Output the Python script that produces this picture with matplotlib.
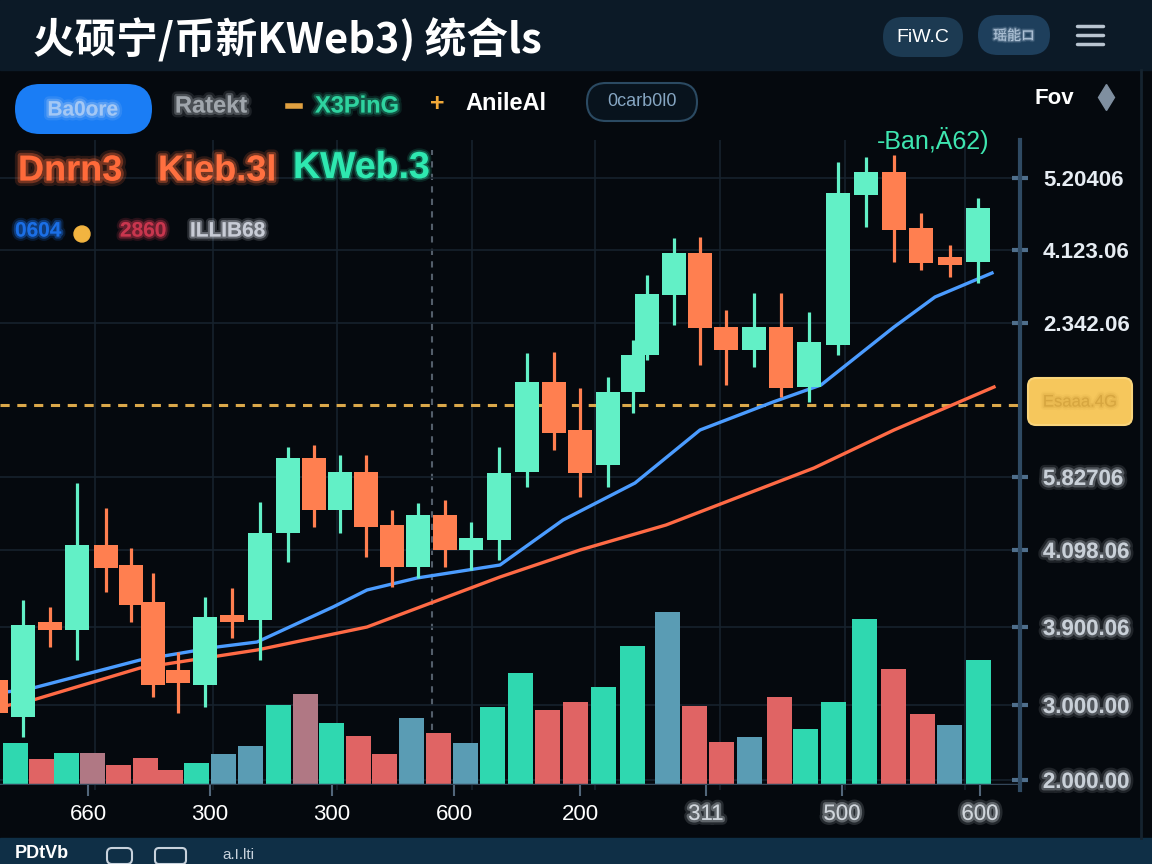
import matplotlib
matplotlib.use("Agg")
import matplotlib.pyplot as plt
import matplotlib.patheffects as pe
from matplotlib.patches import FancyBboxPatch, Rectangle, Circle

plt.rcParams['font.family'] = ['Liberation Sans', 'Noto Sans CJK SC', 'DejaVu Sans']

# candles: time position, open, close, high, low
cx = [-4, 23, 50, 77, 106, 131, 153, 178, 205, 232, 260, 288, 314, 340, 366, 392, 418, 445, 471, 499,
      527, 554, 580, 608, 633, 647, 674, 700, 726, 754, 781, 809, 838, 866, 894, 921, 950, 978]
op = [110, 73, 168, 160, 245, 225, 188, 120, 105, 175, 170, 257, 332, 280, 318, 265, 223, 275, 240, 250,
      318, 408, 360, 325, 398, 435, 495, 537, 463, 440, 463, 403, 445, 595, 618, 562, 533, 528]
cl = [77, 165, 160, 245, 222, 185, 105, 107, 173, 168, 257, 332, 280, 318, 263, 223, 275, 240, 252, 317,
      408, 357, 317, 398, 435, 496, 537, 462, 440, 463, 402, 448, 597, 618, 560, 527, 525, 582]
hi = [120, 190, 183, 307, 282, 242, 217, 138, 193, 202, 288, 343, 345, 335, 335, 280, 287, 290, 268, 343,
      437, 438, 402, 413, 450, 515, 552, 553, 480, 497, 497, 478, 628, 633, 635, 577, 545, 592]
lo = [70, 53, 143, 130, 198, 168, 93, 77, 83, 152, 130, 228, 263, 257, 233, 203, 212, 223, 220, 230,
      303, 340, 293, 303, 377, 430, 465, 425, 405, 423, 393, 388, 435, 563, 528, 520, 513, 507]

# volume bars
vx = [15, 41, 66, 92, 118, 145, 170, 196, 223, 250, 278, 305, 331, 358, 384, 411, 438, 465, 492, 520,
      547, 575, 603, 632, 667, 694, 721, 749, 779, 805, 833, 864, 893, 922, 949, 978]
vol = [42, 26, 32, 32, 20, 27, 15, 22, 31, 39, 80, 91, 62, 49, 31, 67, 52, 42, 78, 112,
       75, 83, 98, 139, 173, 79, 43, 48, 88, 56, 83, 166, 116, 71, 60, 125]
vkind = ['g', 'r', 'g', 'm', 'r', 'r', 'r', 'g', 's', 's', 'g', 'm', 'g', 'r', 'r', 's', 'r', 's', 'g', 'g',
         'r', 'r', 'g', 'g', 's', 'r', 'r', 's', 'r', 'g', 'g', 'g', 'r', 'r', 's', 'g']

# moving averages
ma1_x = [0, 33, 140, 217, 257, 333, 367, 417, 500, 563, 635, 700, 773, 821, 894, 935, 992]
ma1 = [97, 102, 130, 143, 148, 183, 200, 212, 225, 270, 307, 360, 388, 405, 463, 493, 517]
ma2_x = [0, 33, 140, 257, 367, 500, 580, 666, 814, 894, 994]
ma2 = [83, 90, 122, 140, 163, 213, 240, 265, 322, 360, 403]

price_line = 385
ytick_vals = [612, 540, 467, 313, 240, 163, 85, 10]
ytick_labels = ['5.20406', '4.123.06', '2.342.06', '5.82706', '4.098.06', '3.900.06', '3.000.00', '2.000.00']
xtick_vals = [88, 210, 332, 454, 580, 706, 842, 980]
xtick_labels = ['660', '300', '300', '600', '200', '311', '500', '600']
grid_x = [95, 213, 337, 472, 595, 720, 845, 965]

UP = '#62f0c6'
DOWN = '#ff7f50'
VCOL = {'g': '#2fd8b0', 'r': '#e06464', 's': '#5a9cb4', 'm': '#b07884'}
BG = '#05090e'


def soft(c, w=5, a=0.35):
    # fake blur: wide faint halo + narrower halo + text
    return [pe.Stroke(linewidth=w, foreground=c, alpha=a * 0.45),
            pe.Stroke(linewidth=w * 0.5, foreground=c, alpha=a),
            pe.Normal()]


fig = plt.figure(figsize=(11.52, 8.64), dpi=100, facecolor=BG)

# main price chart
ax = fig.add_axes([0, 74 / 864, 1020 / 1152, 650 / 864], zorder=1)
ax.set_facecolor(BG)
ax.set_xlim(0, 1020)
ax.set_ylim(0, 650)
ax.vlines(grid_x, 0, 650, color='#17222d', lw=1.2, zorder=0)
ax.vlines(432, 10, 640, color='#8898a8', lw=1.5, linestyles=(0, (3, 3)), alpha=0.6, zorder=0)
ax.axhline(price_line, color='#dba84a', lw=2.2, linestyle=(0, (3, 2.5)), zorder=1)

ax.plot(ma2_x, ma2, color='#ff6a45', lw=2.4, zorder=2)
ax.plot(ma1_x, ma1, color='#4b9cff', lw=2.4, zorder=2)

for x, o, c, h, l in zip(cx, op, cl, hi, lo):
    col = UP if c >= o else DOWN
    ax.vlines(x, l, h, color=col, lw=2.3, zorder=3)
    ax.bar(x, max(abs(c - o), 3), bottom=min(o, c), width=24, color=col, zorder=4)

ax.set_yticks(ytick_vals)
ax.set_yticklabels(ytick_labels)
ax.yaxis.tick_right()
ax.grid(axis='y', color='#17222d', lw=1.2, zorder=0)
ax.tick_params(axis='y', direction='inout', length=11, width=3, color='#4f6f8c',
               labelcolor='#e6ecf2', labelsize=16, pad=11)
for i, t in enumerate(ax.get_yticklabels()):
    t.set_fontweight('bold')
    if i >= 3:
        t.set_color('#c9d0d8')
        t.set_path_effects(soft('#c9d0d8', 7, 0.3))

ax.set_xticks(xtick_vals)
ax.set_xticklabels(xtick_labels)
ax.tick_params(axis='x', direction='inout', length=8, width=1.5, color='#52667a',
               labelcolor='white', labelsize=16, pad=6)
for i, t in enumerate(ax.get_xticklabels()):
    if i >= 5:
        t.set_color('#d0d6dc')
        t.set_path_effects(soft('#d0d6dc', 7, 0.35))

for s in ['top', 'left', 'bottom']:
    ax.spines[s].set_visible(False)
ax.spines['right'].set_color('#2f4a63')
ax.spines['right'].set_linewidth(3)

# volume pane
axv = fig.add_axes([0, 79 / 864, 1020 / 1152, 200 / 864], zorder=2)
axv.set_facecolor('none')
axv.set_xlim(0, 1020)
axv.set_ylim(0, 200)
axv.bar(vx, vol, width=25, color=[VCOL[k] for k in vkind])
axv.axhline(0, color='#34475a', lw=2.5)
axv.axis('off')

# decorations in pixel coordinates
d = fig.add_axes([0, 0, 1, 1], zorder=3)
d.set_facecolor('none')
d.set_xlim(0, 1152)
d.set_ylim(864, 0)
d.axis('off')

d.add_patch(Rectangle((0, 0), 1152, 70, color='#0c1a27', zorder=0))
d.add_patch(Rectangle((0, 838), 1152, 26, color='#0f2f46', zorder=0))
d.plot([1141, 1141], [70, 838], color='#15232f', lw=2)

d.text(33, 40, '火硕宁/币新KWeb3) 统合ls', color='white', fontsize=30, fontweight='heavy',
       va='center', family=['Noto Sans CJK SC', 'DejaVu Sans'])
d.add_patch(FancyBboxPatch((883, 17), 80, 40, boxstyle='round,pad=0,rounding_size=20', fc='#1c3a52', ec='none'))
d.text(923, 38, 'FiW.C', color='white', fontsize=14, ha='center', va='center')
d.add_patch(FancyBboxPatch((978, 15), 72, 40, boxstyle='round,pad=0,rounding_size=20', fc='#1e3f5c', ec='none'))
d.text(1014, 36, '瑶能ロ', color='#b0c4d8', fontsize=10, ha='center', va='center',
       family=['Noto Sans CJK SC', 'DejaVu Sans'], path_effects=soft('#b0c4d8', 3, 0.3))
for y in [26, 35, 44]:
    d.plot([1077, 1103], [y, y], color='#b8c4d0', lw=2.5, solid_capstyle='round')

# toolbar row
d.add_patch(FancyBboxPatch((15, 84), 137, 50, boxstyle='round,pad=0,rounding_size=25', fc='#1a7df5', ec='none'))
d.text(83, 110, 'Ba0ore', color='#a4c8f4', fontsize=15, fontweight='bold', ha='center', va='center',
       path_effects=soft('#a4c8f4', 7, 0.35))
d.text(175, 106, 'Ratekt', color='#a0a6ac', fontsize=17, fontweight='bold', va='center',
       path_effects=soft('#a0a6ac', 7, 0.35))
d.plot([288, 300], [106, 106], color='#e0a040', lw=4)
d.text(315, 106, 'X3PinG', color='#2ed39f', fontsize=17, fontweight='bold', va='center',
       path_effects=soft('#2ed39f', 6, 0.3))
d.text(437, 104, '+', color='#f0a838', fontsize=18, fontweight='bold', ha='center', va='center')
d.text(465, 104, 'AnileAl', color='white', fontsize=17, fontweight='bold', va='center')
d.add_patch(FancyBboxPatch((587, 83), 110, 38, boxstyle='round,pad=0,rounding_size=19', fc='#08131d',
                           ec='#2b4a62', lw=1.5))
d.text(642, 102, '0carb0l0', color='#86a6c2', fontsize=13, ha='center', va='center')
d.text(1035, 98, 'Fov', color='white', fontsize=16, fontweight='bold', va='center')
d.plot(1106, 97, marker='d', ms=13, color='#7f8fa0')

# symbol rows
d.text(18, 171, 'Dnrn3', color='#ff6a3a', fontsize=26, fontweight='bold', va='center',
       path_effects=soft('#ff6a3a', 8, 0.35))
d.text(158, 171, 'Kieb.3l', color='#ff7040', fontsize=26, fontweight='bold', va='center',
       path_effects=soft('#ff7040', 7, 0.35))
d.text(293, 168, 'KWeb.3', color='#2ee8b0', fontsize=27, fontweight='bold', va='center',
       path_effects=soft('#2ee8b0', 5, 0.3))
d.text(15, 231, '0604', color='#1b6fe6', fontsize=15, fontweight='bold', va='center',
       path_effects=soft('#1b6fe6', 6, 0.4))
d.add_patch(Circle((82, 234), 8, color='#f2b440'))
d.text(120, 231, '2860', color='#c8364e', fontsize=15, fontweight='bold', va='center',
       path_effects=soft('#c8364e', 6, 0.4))
d.text(190, 231, 'ILLIB68', color='#c8ccd6', fontsize=15, fontweight='bold', va='center',
       path_effects=soft('#c8ccd6', 6, 0.4))
d.text(877, 141, '-Ban,Ä62)', color='#3ee6b0', fontsize=18, va='center')

# current price tag
d.add_patch(FancyBboxPatch((1028, 378), 104, 47, boxstyle='round,pad=0,rounding_size=8', fc='#f6c75c',
                           ec='#f9d47a', lw=1.5))
d.text(1080, 402, 'Esaaa.4G', color='#d7a640', fontsize=12, ha='center', va='center',
       path_effects=soft('#d7a640', 5, 0.3))

# bottom strip
d.text(15, 862, 'PDtVb', color='white', fontsize=13, fontweight='bold', va='bottom')
d.add_patch(FancyBboxPatch((107, 848), 25, 16, boxstyle='round,pad=0,rounding_size=5', fc='none',
                           ec='#c8d2dc', lw=1.5))
d.add_patch(FancyBboxPatch((155, 848), 31, 16, boxstyle='round,pad=0,rounding_size=4', fc='none',
                           ec='#c8d2dc', lw=1.5))
d.text(222, 862, 'a.I.lti', color='#c8d2dc', fontsize=11, va='bottom')

fig.savefig('out.png', dpi=100, facecolor=BG)
